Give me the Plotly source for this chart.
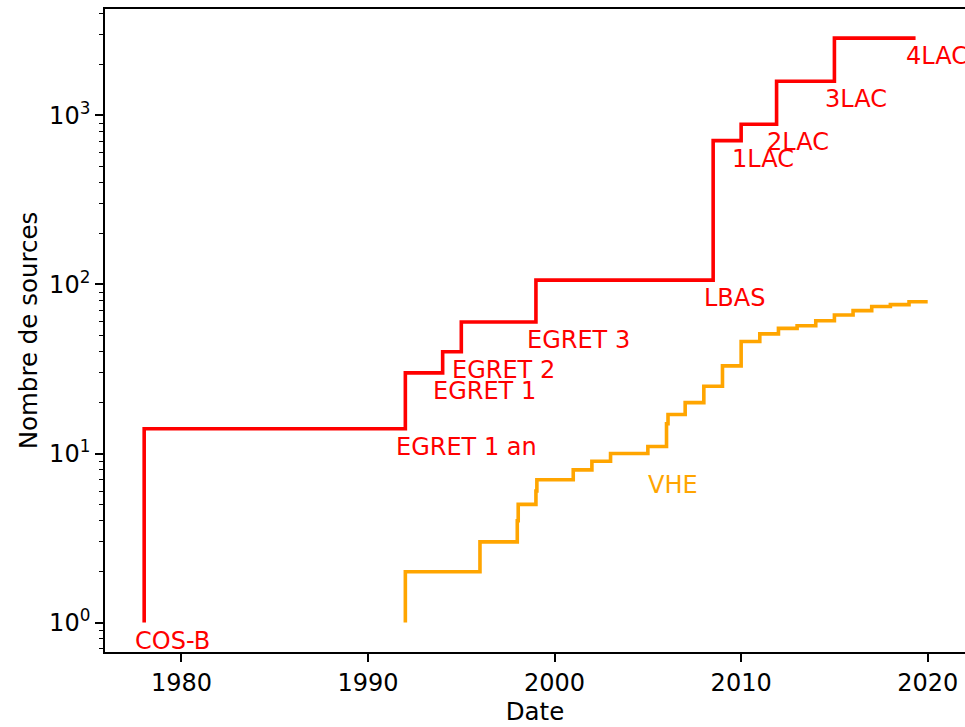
import plotly.graph_objects as go
import math

# ---- data ----
red_years = [1978, 1992, 1994, 1995, 1999, 2008.5, 2010, 2011.9, 2015, 2019.35]
red_counts = [1, 14, 30, 40, 60, 106, 709, 886, 1591, 2863]
red_labels = ["COS-B", "EGRET 1 an", "EGRET 1", "EGRET 2", "EGRET 3", "LBAS",
              "1LAC", "2LAC", "3LAC", "4LAC"]

vhe_years = [1992, 1996, 1998, 1998.05, 1999, 1999.05, 2001, 2002, 2003, 2005,
             2006, 2006.08, 2007, 2008, 2009, 2010, 2011, 2012, 2013, 2014,
             2015, 2016, 2017, 2018, 2019, 2020]
vhe_counts = [1, 2, 3, 4, 5, 6, 7, 8, 9, 10,
              11, 15, 17, 20, 25, 33, 46, 51, 55, 57,
              61, 66, 70, 74, 76, 79]
vhe_label = "VHE"
vhe_label_year = 2005.5
vhe_label_count = 8.3

y_major = [1, 10, 100, 1000]
y_major_text = ["10<sup>0</sup>", "10<sup>1</sup>", "10<sup>2</sup>", "10<sup>3</sup>"]
x_ticks = [1980, 1990, 2000, 2010, 2020]

RED = "#ff0000"
ORANGE = "#ffa500"
FONT = "DejaVu Sans"
FS_TICK = 24
FS_TITLE = 24.5
FS_LAB = 24
LAB_DX = -0.6

fig = go.Figure()
fig.add_trace(go.Scatter(x=red_years, y=red_counts, mode="lines",
                         line=dict(color=RED, width=3.6, shape="vh"),
                         showlegend=False))
fig.add_trace(go.Scatter(x=vhe_years, y=vhe_counts, mode="lines",
                         line=dict(color=ORANGE, width=3.6, shape="vh"),
                         showlegend=False))

for x, y, t in zip(red_years, red_counts, red_labels):
    fig.add_annotation(x=x + LAB_DX, y=math.log10(y), text=t, showarrow=False,
                       xanchor="left", yanchor="top", yshift=-2,
                       font=dict(family=FONT, size=FS_LAB, color=RED))
fig.add_annotation(x=vhe_label_year + LAB_DX, y=math.log10(vhe_label_count), text=vhe_label,
                   showarrow=False, xanchor="left", yanchor="top", yshift=-2,
                   font=dict(family=FONT, size=FS_LAB, color=ORANGE))

minor_vals = [m * d for d in [0.1, 1, 10, 100, 1000] for m in range(2, 10)]

fig.update_layout(
    width=965, height=727,
    margin=dict(l=105, r=0, t=9, b=75),
    plot_bgcolor="white", paper_bgcolor="white",
    font=dict(family=FONT, size=FS_TICK, color="black"),
    xaxis=dict(range=[1975.9, 2022.0], tickvals=x_ticks,
               showline=True, linecolor="black", linewidth=1.7, mirror=True,
               ticks="outside", ticklen=8, tickwidth=1.6, tickcolor="black",
               showgrid=False, zeroline=False,
               tickfont=dict(size=FS_TICK),
               title=dict(text="Date", standoff=7, font=dict(size=FS_TITLE))),
    yaxis=dict(type="log", range=[-0.174, 3.629], tickvals=y_major, ticktext=y_major_text,
               showline=True, linecolor="black", linewidth=1.7, mirror=False,
               ticks="outside", ticklen=8, tickwidth=1.6, tickcolor="black",
               showgrid=False, zeroline=False,
               tickfont=dict(size=FS_TICK),
               minor=dict(tickmode="array", tickvals=minor_vals, ticks="outside",
                          ticklen=4.5, tickwidth=1.2, tickcolor="black", showgrid=False),
               title=dict(text="Nombre de sources", standoff=5, font=dict(size=FS_TITLE))),
)

fig.write_html("out.html", config={"displayModeBar": False},
               post_script="document.body.style.margin='0';document.body.style.overflow='hidden';")
